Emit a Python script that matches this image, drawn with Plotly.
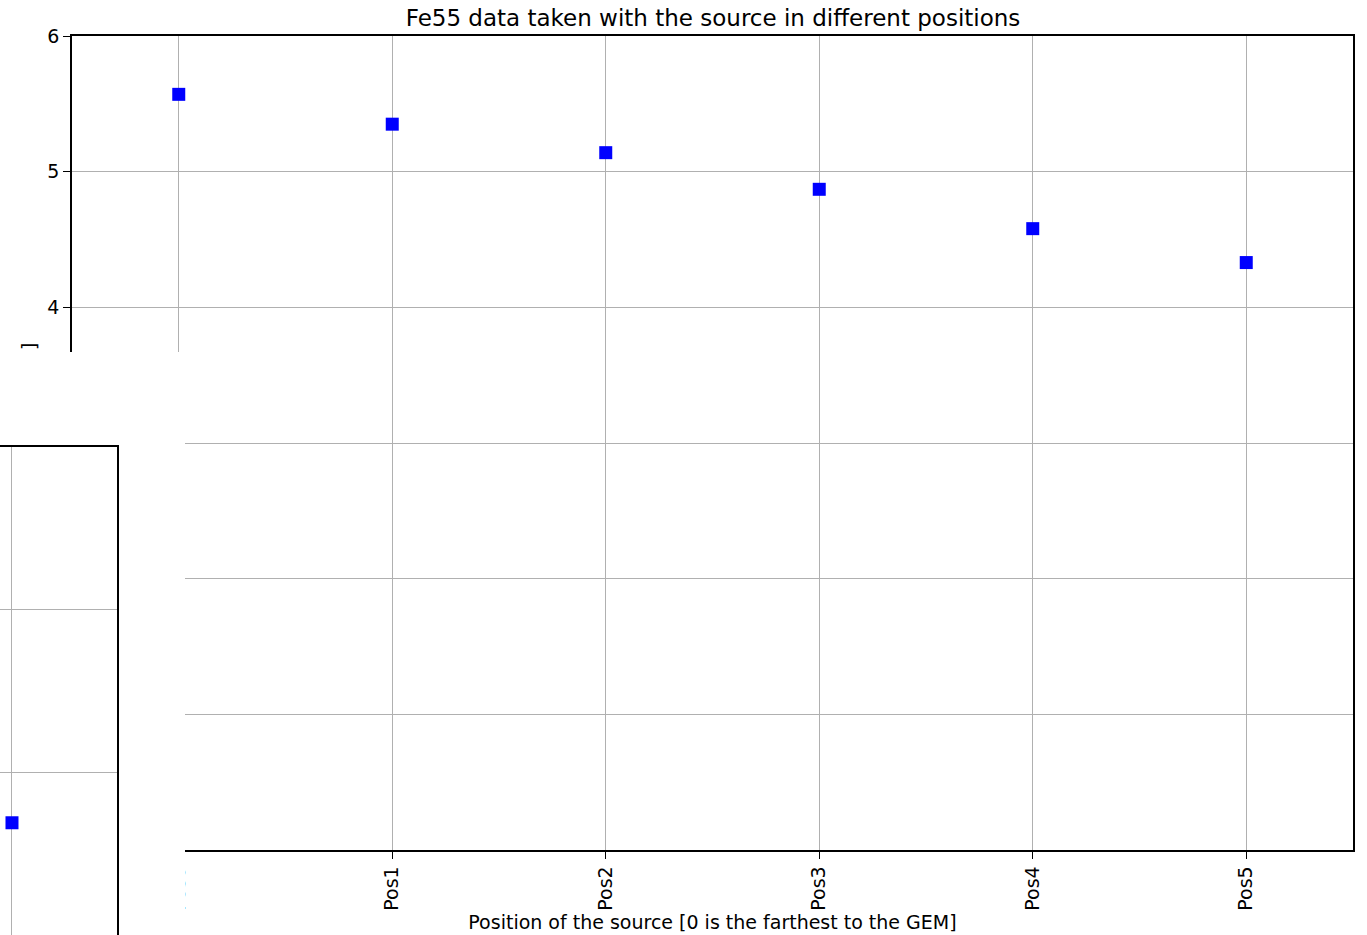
import plotly.graph_objects as go

# ---- data ----
categories = ["Pos0", "Pos1", "Pos2", "Pos3", "Pos4", "Pos5"]
values = [5.57, 5.35, 5.14, 4.87, 4.58, 4.33]
y_ticks = [0, 1, 2, 3, 4, 5, 6]
inset_x = [0]
inset_y = [0.69]

title_text = "Fe55 data taken with the source in different positions"
xtitle_text = "Position of the source [0 is the farthest to the GEM]"
ytitle_fragment = "]"

W, H = 1367, 935
FONT = "DejaVu Sans"

fig = go.Figure()

# main data
fig.add_trace(go.Scatter(
    x=categories, y=values, mode="markers",
    marker=dict(symbol="square", size=13, color="#0000ff", line=dict(width=0)),
    xaxis="x", yaxis="y", showlegend=False, hoverinfo="skip"))

# white patch subplot (covers the lower-left part)
fig.add_trace(go.Scatter(x=[None], y=[None], xaxis="x2", yaxis="y2",
                         showlegend=False, hoverinfo="skip"))

# inset subplot
fig.add_trace(go.Scatter(
    x=inset_x, y=inset_y, mode="markers",
    marker=dict(symbol="square", size=13, color="#0000ff", line=dict(width=0)),
    xaxis="x3", yaxis="y3", showlegend=False, hoverinfo="skip"))

axis_common = dict(showgrid=True, gridcolor="#b0b0b0", gridwidth=1.2,
                   zeroline=False, automargin=False,
                   linecolor="black", linewidth=1.5,
                   tickfont=dict(family=FONT, size=19, color="black"))

fig.update_layout(
    template="none",
    width=W, height=H,
    margin=dict(l=0, r=0, t=0, b=0),
    paper_bgcolor="white", plot_bgcolor="white",
    font=dict(family=FONT, size=19, color="black"),
    title=dict(text=title_text, x=713 / W, xanchor="center",
               y=1 - 18 / H, yanchor="middle",
               font=dict(family=FONT, size=23, color="black")),
    xaxis=dict(axis_common, domain=[72 / W, 1353 / W], type="category",
               categoryorder="array", categoryarray=categories,
               range=[-0.5, 5.5], showline=True, mirror=True,
               ticks="outside", ticklen=7, tickwidth=1.3, tickcolor="black",
               tickangle=-90,
               title=dict(text=xtitle_text, standoff=6,
                          font=dict(family=FONT, size=19, color="black"))),
    yaxis=dict(axis_common, domain=[(H - 850) / H, (H - 36) / H],
               range=[0, 6], tickvals=y_ticks, showline=True, mirror=True,
               ticks="outside", ticklen=7, tickwidth=1.3, tickcolor="black"),
    xaxis2=dict(domain=[0, 185 / W], visible=False, range=[0, 1],
                anchor="y2"),
    yaxis2=dict(domain=[0, (H - 352) / H], visible=False, range=[0, 1],
                anchor="x2"),
    xaxis3=dict(axis_common, domain=[0, 117 / W], range=[-0.0571, 0.5],
                tickvals=inset_x, showticklabels=False, ticks="",
                showline=True, side="top", anchor="y3"),
    yaxis3=dict(axis_common, domain=[0, (H - 447) / H], range=[0, 3],
                dtick=1, showticklabels=False, ticks="",
                showline=True, side="right", anchor="x3"),
    annotations=[dict(text=ytitle_fragment, xref="paper", yref="paper",
                      x=29 / W, y=(H - 347) / H, xanchor="center",
                      yanchor="middle", textangle=-90, showarrow=False,
                      font=dict(family=FONT, size=19, color="black"))],
)

fig.write_html("out.html")
